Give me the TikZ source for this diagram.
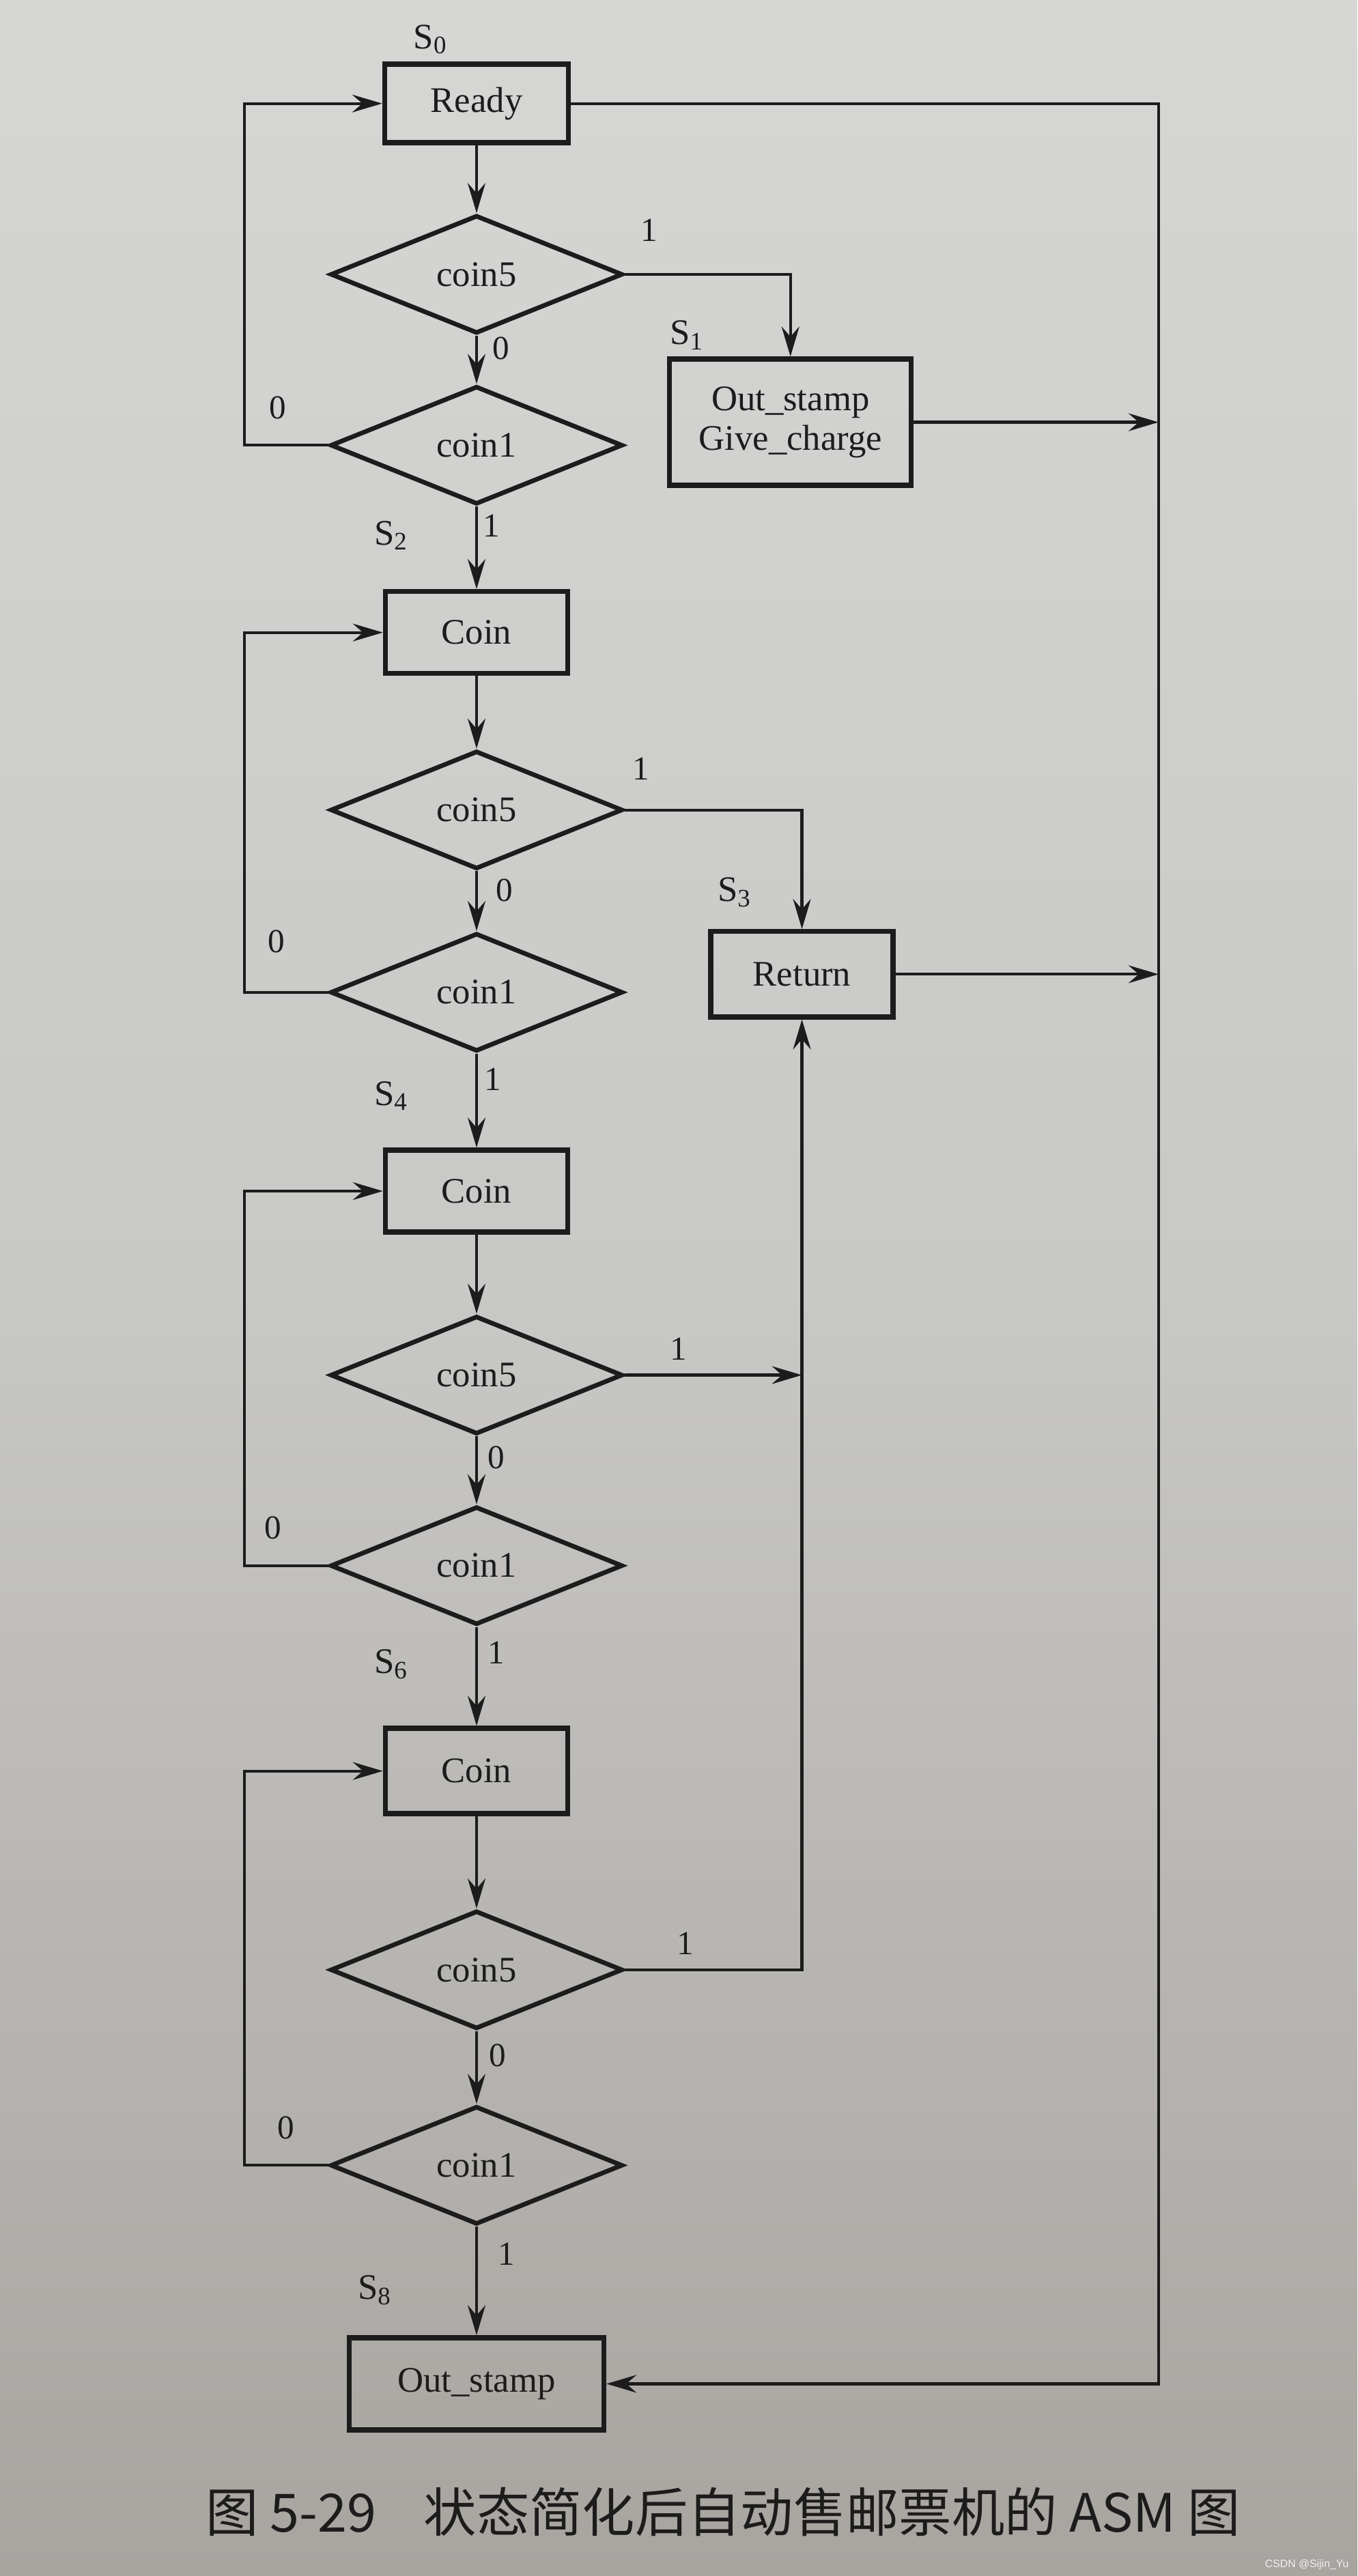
\documentclass[tikz,border=0pt]{standalone}
\usepackage{fontspec}
\setmainfont{Liberation Serif}
\newfontfamily\cjk{Noto Sans CJK SC}
\newfontfamily\wmfont{Liberation Sans}
\usetikzlibrary{shapes.geometric,arrows.meta}
\definecolor{paperT}{RGB}{214,215,213}
\definecolor{paperM}{RGB}{200,200,198}
\definecolor{paperB}{RGB}{168,164,160}
\definecolor{ink}{RGB}{28,28,28}
\begin{document}
\begin{tikzpicture}[x=0.02406cm,y=-0.02406cm,
  box/.style={draw=ink, line width=2.1pt, inner sep=0pt, align=center,
    font=\fontsize{15}{16.5}\selectfont, text=ink},
  dia/.style={draw=ink, diamond, line width=1.9pt, inner sep=0pt,
    minimum width=4.28cm, minimum height=1.73cm,
    font=\fontsize{15}{18}\selectfont, text=ink},
  conn/.style={draw=ink, line width=1.2pt},
  arr/.style={conn, -{Stealth[length=4.4mm,width=2.6mm,inset=1.5mm]}},
  lbl/.style={inner sep=0pt, font=\fontsize{14}{16}\selectfont, text=ink},
  st/.style={inner sep=0pt, font=\fontsize{15}{18}\selectfont, text=ink}]

% paper background
\shade[top color=paperT, bottom color=paperM] (0,0) rectangle (826,784);
\shade[top color=paperM, bottom color=paperB] (0,784) rectangle (826,1568);
\useasboundingbox (0,0) rectangle (826,1568);

% ---- nodes ----
\node[box, minimum width=2.69cm, minimum height=1.15cm] (ready) at (290,63) {Ready};
\node[dia] (c5a) at (290,167) {coin5};
\node[dia] (c1a) at (290,271) {coin1};
\node[box, minimum width=3.54cm, minimum height=1.85cm] (s1) at (481,257) {Out\_stamp\\Give\_charge};

\node[box, minimum width=2.67cm, minimum height=1.20cm] (coinb) at (290,385) {Coin};
\node[dia] (c5b) at (290,493) {coin5};
\node[dia] (c1b) at (290,604) {coin1};
\node[box, minimum width=2.67cm, minimum height=1.25cm] (ret) at (488,593) {Return};

\node[box, minimum width=2.67cm, minimum height=1.20cm] (coinc) at (290,725) {Coin};
\node[dia] (c5c) at (290,837) {coin5};
\node[dia] (c1c) at (290,953) {coin1};

\node[box, minimum width=2.67cm, minimum height=1.25cm] (coind) at (290,1078) {Coin};
\node[dia] (c5d) at (290,1199) {coin5};
\node[dia] (c1d) at (290,1318) {coin1};

\node[box, minimum width=3.73cm, minimum height=1.35cm] (out) at (290,1451) {Out\_stamp};

\coordinate (rt) at (705,63);
\coordinate (rb) at (705,1451);

% ---- connectors ----
\draw[arr] (ready.east) -- (rt) -- (rb) -- (out.east);
\draw[arr] (ready.south) -- (c5a.north);
\draw[arr] (c5a.south) -- (c1a.north);
\draw[arr] (c5a.east) -| (s1.north);
\draw[arr] (c1a.west) -- ++(-51,0) |- (ready.west);
\draw[arr] (c1a.south) -- (coinb.north);
\draw[arr] (s1.east) -- (s1.east -| rt);

\draw[arr] (coinb.south) -- (c5b.north);
\draw[arr] (c5b.south) -- (c1b.north);
\draw[arr] (c5b.east) -| (ret.north);
\draw[arr] (c1b.west) -- ++(-51,0) |- (coinb.west);
\draw[arr] (c1b.south) -- (coinc.north);
\draw[arr] (ret.east) -- (ret.east -| rt);

\draw[arr] (coinc.south) -- (c5c.north);
\draw[arr] (c5c.south) -- (c1c.north);
\draw[arr] (c5c.east) -- (c5c.east -| ret.south);
\draw[arr] (c1c.west) -- ++(-51,0) |- (coinc.west);
\draw[arr] (c1c.south) -- (coind.north);

\draw[arr] (coind.south) -- (c5d.north);
\draw[arr] (c5d.south) -- (c1d.north);
\draw[arr] (c5d.east) -| (ret.south);
\draw[arr] (c1d.west) -- ++(-51,0) |- (coind.west);
\draw[arr] (c1d.south) -- (out.north);

% ---- labels ----
\node[st] (s0l) at (262,24) {S\textsubscript{0}};
\node[lbl] (a1) at (395,140) {1};
\node[st] (s1l) at (418,204) {S\textsubscript{1}};
\node[lbl] (a0) at (305,212) {0};
\node[lbl] (a0l) at (169,248) {0};
\node[lbl] (a1b) at (299,320) {1};
\node[st] (s2l) at (238,326) {S\textsubscript{2}};

\node[lbl] (b1) at (390,468) {1};
\node[st] (s3l) at (447,543) {S\textsubscript{3}};
\node[lbl] (b0) at (307,542) {0};
\node[lbl] (b0l) at (168,573) {0};
\node[lbl] (b1b) at (300,657) {1};
\node[st] (s4l) at (238,667) {S\textsubscript{4}};

\node[lbl] (c1) at (413,821) {1};
\node[lbl] (c0) at (302,887) {0};
\node[lbl] (c0l) at (166,930) {0};
\node[lbl] (c1b) at (302,1006) {1};
\node[st] (s6l) at (238,1013) {S\textsubscript{6}};

\node[lbl] (d1) at (417,1183) {1};
\node[lbl] (d0) at (303,1251) {0};
\node[lbl] (d0l) at (174,1295) {0};
\node[lbl] (d1b) at (308,1372) {1};
\node[st] (s8l) at (228,1394) {S\textsubscript{8}};

% caption
\node[inner sep=0pt, text=ink, font=\cjk\fontsize{22}{26}\selectfont] (cap) at (440,1529)
  {图 5-29\hspace{0.9em}状态简化后自动售邮票机的 ASM 图};
\node[inner sep=0pt, anchor=east, text=white, opacity=0.85, font=\wmfont\fontsize{4.5}{5}\selectfont] (wm) at (821,1561) {CSDN @Sijin\_Yu};
\end{tikzpicture}
\end{document}
